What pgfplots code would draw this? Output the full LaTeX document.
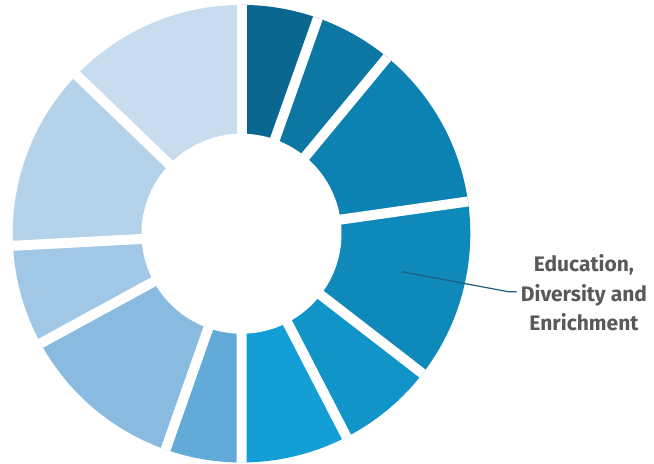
\documentclass[border=0pt]{standalone}
\usepackage{pgfplots}
\usepackage{pgfplotstable}
\pgfplotsset{compat=1.18}
\usepackage{fontspec}
\setmainfont{Fira Sans}
\definecolor{s1}{HTML}{0A6890}
\definecolor{s2}{HTML}{0C77A2}
\definecolor{s3}{HTML}{0C82B2}
\definecolor{s4}{HTML}{0E89BA}
\definecolor{s5}{HTML}{1195C9}
\definecolor{s6}{HTML}{139FD6}
\definecolor{s7}{HTML}{62AAD8}
\definecolor{s8}{HTML}{89BAE0}
\definecolor{s9}{HTML}{A0C7E6}
\definecolor{s10}{HTML}{B4D3EB}
\definecolor{s11}{HTML}{C7DCEE}
\definecolor{labelgray}{HTML}{595959}
\definecolor{leader}{HTML}{1F5F7E}
% segment shares (percent), clockwise from 12 o'clock
\pgfplotstableread{
seg value
1 5.42
2 5.58
3 11.75
4 12.72
5 6.94
6 7.58
7 5.39
8 11.67
9 7.11
10 13.03
11 12.81
}\donutdata
\begin{document}
\begin{tikzpicture}
\begin{axis}[x=0.5pt,y=0.5pt,xmin=0,xmax=654,ymin=0,ymax=463,hide axis,clip=true]
\pgfplotstablegetrowsof{\donutdata}
\pgfmathtruncatemacro\nrows{\pgfplotsretval-1}
% total
\def\tot{0}
\pgfplotsforeachungrouped \i in {0,...,\nrows}{%
  \pgfplotstablegetelem{\i}{value}\of\donutdata
  \pgfmathsetmacro\tmp{\tot+\pgfplotsretval}%
  \global\let\tot\tmp
}
\def\cum{0}
\pgfplotsforeachungrouped \i in {0,...,\nrows}{%
  \pgfplotstablegetelem{\i}{value}\of\donutdata
  \pgfmathsetmacro\a{90-\cum/\tot*360}%
  \pgfmathsetmacro\cumnew{\cum+\pgfplotsretval}%
  \pgfmathsetmacro\b{90-\cumnew/\tot*360}%
  \pgfmathtruncatemacro\k{\i+1}%
  \edef\temp{\noexpand\fill[s\k] (axis cs:241.5,229.3) -- ++(\a:114.4pt) arc[start angle=\a, end angle=\b, radius=114.4pt] -- cycle;}%
  \temp
  \global\let\cum\cumnew
}
\def\cum{0}
\pgfplotsforeachungrouped \i in {0,...,\nrows}{%
  \pgfplotstablegetelem{\i}{value}\of\donutdata
  \pgfmathsetmacro\a{90-\cum/\tot*360}%
  \pgfmathsetmacro\cumnew{\cum+\pgfplotsretval}%
  \edef\temp{\noexpand\draw[white, line width=5pt] (axis cs:241.5,229.3) -- ++(\a:114.4pt);}%
  \temp
  \global\let\cum\cumnew
}
\fill[white] (axis cs:241.5,229.3) circle[radius=50pt];
\draw[leader, line width=0.6pt] (axis cs:401.7,191.3) -- (axis cs:508.3,171.3) -- (axis cs:516.7,171.3);
\node[align=center, font=\bfseries\fontsize{10.5pt}{14.8pt}\selectfont, text=labelgray, anchor=center] at (axis cs:584,170) {Education,\\Diversity and\\Enrichment};
\end{axis}
\pgfresetboundingbox
\useasboundingbox (current axis.south west) rectangle (current axis.north east);
\end{tikzpicture}
\end{document}
